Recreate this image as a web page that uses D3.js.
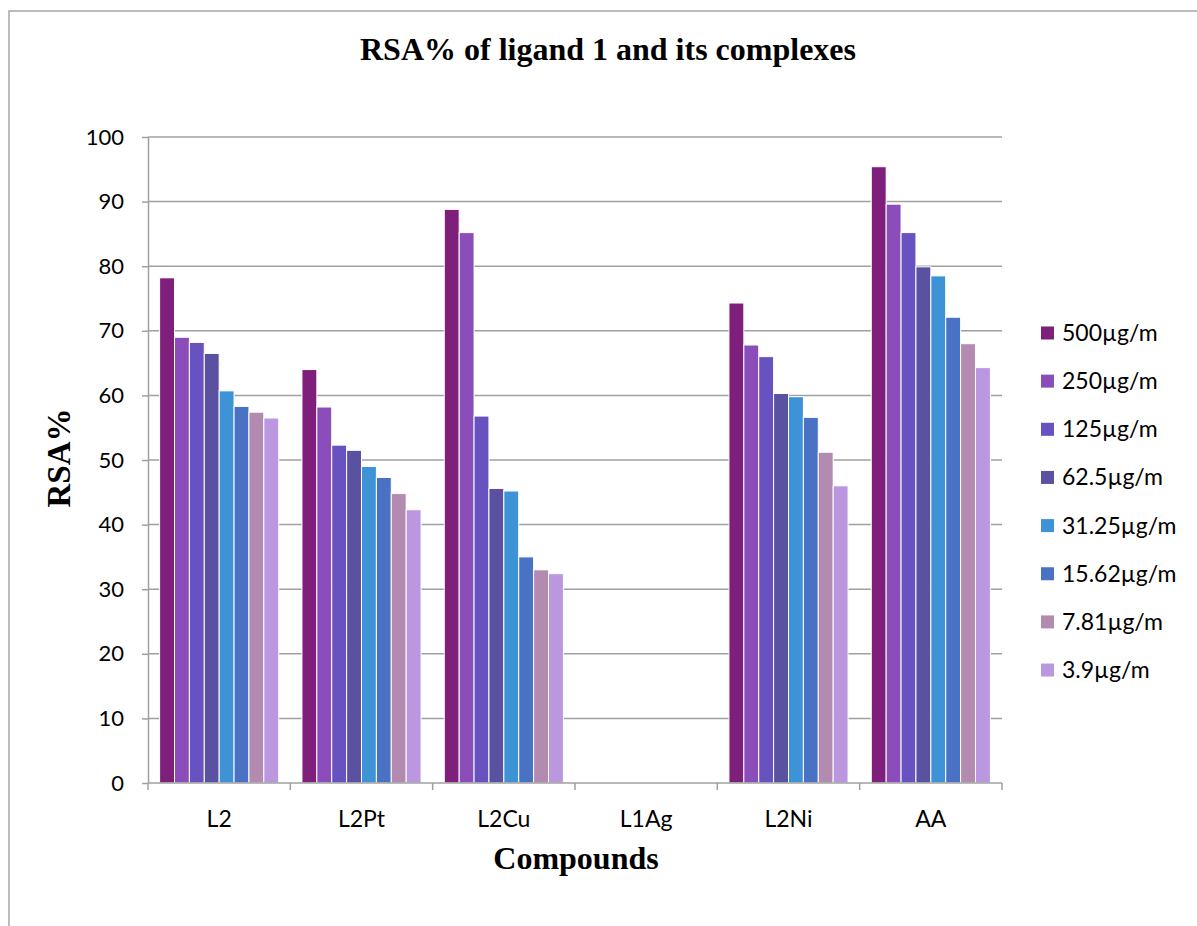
<!DOCTYPE html>
<html>
<head>
<meta charset="utf-8">
<script src="https://cdn.jsdelivr.net/npm/d3@7"></script>
<style>
  html, body { margin: 0; padding: 0; background: #fff; }
  svg { display: block; }
</style>
</head>
<body>
<svg id="chart" width="1197" height="926"></svg>
<script>
// Compounds along the x axis
const compounds = ["L2", "L2Pt", "L2Cu", "L1Ag", "L2Ni", "AA"];

// Concentration series (one bar per compound each)
const concentrations = ["500µg/m", "250µg/m", "125µg/m", "62.5µg/m", "31.25µg/m", "15.62µg/m", "7.81µg/m", "3.9µg/m"];

// RSA% values, one array per concentration, in compound order
const rsa500   = [78.2, 64.0, 88.8, 0, 74.3, 95.4];
const rsa250   = [69.0, 58.2, 85.2, 0, 67.8, 89.6];
const rsa125   = [68.2, 52.3, 56.8, 0, 66.0, 85.2];
const rsa62_5  = [66.5, 51.5, 45.6, 0, 60.3, 79.9];
const rsa31_25 = [60.7, 49.0, 45.2, 0, 59.8, 78.5];
const rsa15_62 = [58.3, 47.3, 35.0, 0, 56.6, 72.1];
const rsa7_81  = [57.4, 44.8, 33.0, 0, 51.2, 68.0];
const rsa3_9   = [56.5, 42.3, 32.4, 0, 46.0, 64.3];

const seriesValues = [rsa500, rsa250, rsa125, rsa62_5, rsa31_25, rsa15_62, rsa7_81, rsa3_9];

const seriesColors = ["#7f1f7c", "#8a4db9", "#6752c0", "#5a52a0", "#3e93d6", "#4a72c4", "#b38ab0", "#ba97de"];

const yTicks = [0, 10, 20, 30, 40, 50, 60, 70, 80, 90, 100];

const sansFont = "Lato, 'Open Sans', sans-serif";
const serifFont = "'Liberation Serif', 'Times New Roman', serif";

const svg = d3.select("#chart");

// Outer chart frame
svg.append("rect")
  .attr("x", 9).attr("y", 11)
  .attr("width", 1300).attr("height", 1000)
  .attr("fill", "#fff")
  .attr("stroke", "#a6a6a6")
  .attr("stroke-width", 1.5);

const plot = { left: 148, right: 1002, top: 137, bottom: 783 };

const x0 = d3.scaleBand()
  .domain(compounds)
  .range([plot.left, plot.right])
  .paddingInner(0)
  .paddingOuter(0);

const x1 = d3.scaleBand()
  .domain(d3.range(concentrations.length))
  .range([0, x0.bandwidth()])
  .paddingInner(0)
  .paddingOuter(0.78);

const y = d3.scaleLinear().domain([0, 100]).range([plot.bottom, plot.top]);

// Horizontal gridlines
svg.append("g")
  .selectAll("line")
  .data(yTicks.filter(d => d > 0))
  .join("line")
  .attr("x1", plot.left).attr("x2", plot.right)
  .attr("y1", d => y(d)).attr("y2", d => y(d))
  .attr("stroke", "#a0a0a0")
  .attr("stroke-width", 1.5);

// Bars
const rows = [];
compounds.forEach((c, ci) => {
  seriesValues.forEach((vals, si) => {
    rows.push({ compound: c, series: si, value: vals[ci] });
  });
});

svg.append("g")
  .selectAll("rect")
  .data(rows.filter(d => d.value > 0))
  .join("rect")
  .attr("x", d => x0(d.compound) + x1(d.series))
  .attr("y", d => y(d.value))
  .attr("width", x1.bandwidth())
  .attr("height", d => y(0) - y(d.value))
  .attr("fill", d => seriesColors[d.series])
  .attr("stroke", "#ffffff")
  .attr("stroke-width", 1);

// Y axis
const yAxis = svg.append("g")
  .attr("transform", `translate(${plot.left},0)`)
  .call(d3.axisLeft(y).tickValues(yTicks).tickSize(6).tickPadding(18).tickSizeOuter(0));
yAxis.select(".domain").attr("stroke", "#a0a0a0").attr("stroke-width", 1.5);
yAxis.selectAll(".tick line").attr("stroke", "#a0a0a0").attr("stroke-width", 1.5);
yAxis.selectAll(".tick text")
  .attr("font-family", sansFont)
  .attr("font-size", 22)
  .attr("fill", "#000");

// X axis with tick marks at category boundaries
const xAxis = svg.append("g")
  .attr("transform", `translate(0,${plot.bottom})`);
xAxis.append("line")
  .attr("x1", plot.left).attr("x2", plot.right)
  .attr("stroke", "#a0a0a0").attr("stroke-width", 1.5);
const boundaries = compounds.map(c => x0(c)).concat([plot.right]);
xAxis.selectAll("line.tk")
  .data(boundaries)
  .join("line")
  .attr("class", "tk")
  .attr("x1", d => d).attr("x2", d => d)
  .attr("y1", 0).attr("y2", 7)
  .attr("stroke", "#a0a0a0").attr("stroke-width", 1.5);
xAxis.selectAll("text")
  .data(compounds)
  .join("text")
  .attr("x", d => x0(d) + x0.bandwidth() / 2)
  .attr("y", 44)
  .attr("text-anchor", "middle")
  .attr("font-family", sansFont)
  .attr("font-size", 23)
  .attr("fill", "#000")
  .text(d => d);

// Titles
svg.append("text")
  .attr("x", 608).attr("y", 60)
  .attr("text-anchor", "middle")
  .attr("font-family", serifFont)
  .attr("font-weight", "bold")
  .attr("font-size", 32)
  .text("RSA% of ligand 1 and its complexes");

svg.append("text")
  .attr("x", 576).attr("y", 869)
  .attr("text-anchor", "middle")
  .attr("font-family", serifFont)
  .attr("font-weight", "bold")
  .attr("font-size", 32)
  .text("Compounds");

svg.append("text")
  .attr("transform", "translate(70,458) rotate(-90)")
  .attr("text-anchor", "middle")
  .attr("font-family", serifFont)
  .attr("font-weight", "bold")
  .attr("font-size", 33)
  .text("RSA%");

// Legend
const legend = svg.append("g");
const legendItems = legend.selectAll("g")
  .data(concentrations)
  .join("g")
  .attr("transform", (d, i) => `translate(1041,${333 + i * 48.15})`);
legendItems.append("rect")
  .attr("x", 0).attr("y", -6.5)
  .attr("width", 13).attr("height", 13)
  .attr("fill", (d, i) => seriesColors[i]);
legendItems.append("text")
  .attr("x", 21).attr("y", 8)
  .attr("font-family", sansFont)
  .attr("font-size", 23)
  .attr("fill", "#000")
  .text(d => d);
</script>
</body>
</html>
